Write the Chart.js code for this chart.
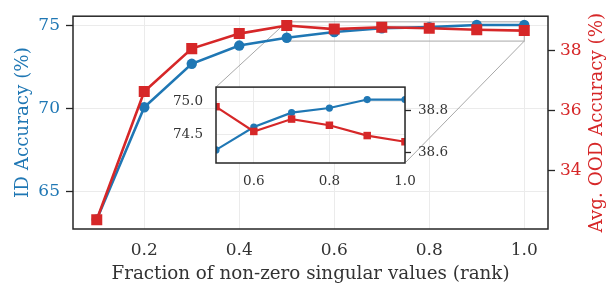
<!DOCTYPE html>
<html>
<head>
<meta charset="utf-8">
<script src="https://cdn.jsdelivr.net/npm/chart.js@4.4.1/dist/chart.umd.min.js"></script>
<style>
  html, body { margin: 0; padding: 0; background: #fff; }
  #wrap { position: relative; width: 614px; height: 296px; }
  #main { position: absolute; left: 0; top: 0; }
  #inset { position: absolute; left: 170px; top: 66px; }
</style>
</head>
<body>
<div id="wrap">
  <canvas id="main" width="614" height="296"></canvas>
  <canvas id="inset" width="280" height="130"></canvas>
</div>
<script>
const ranks = [0.1, 0.2, 0.3, 0.4, 0.5, 0.6, 0.7, 0.8, 0.9, 1.0];
const idAcc = [63.3, 70.07, 72.69, 73.79, 74.26, 74.61, 74.83, 74.9, 75.03, 75.03];
const oodAcc = [32.35, 36.62, 38.05, 38.55, 38.82, 38.7, 38.76, 38.73, 38.68, 38.65];

const xTicks = [0.2, 0.4, 0.6, 0.8, 1.0];
const idTicks = [65, 70, 75];
const oodTicks = [34, 36, 38];
const insetXTicks = [0.6, 0.8, 1.0];
const insetIdTicks = [74.5, 75.0];
const insetOodTicks = [38.6, 38.8];

const BLUE = "#1f77b4";
const RED = "#d62728";
const FONT = "DejaVu Serif";
const INSET_LEFT = 170, INSET_TOP = 66;

const toPoints = (ys) => ranks.map((x, i) => ({ x: x, y: ys[i] }));
const fixTicks = (vals) => (s) => { s.ticks = vals.map((v) => ({ value: v })); };

function makeDatasets(radius, square, width, clip) {
  return [
    {
      label: "ID Accuracy",
      data: toPoints(idAcc),
      yAxisID: "yId",
      borderColor: BLUE,
      backgroundColor: BLUE,
      borderWidth: width,
      pointRadius: radius,
      pointHoverRadius: radius,
      pointBorderWidth: 0,
      order: 1,
      clip: clip,
    },
    {
      label: "Avg. OOD Accuracy",
      data: toPoints(oodAcc),
      yAxisID: "yOod",
      borderColor: RED,
      backgroundColor: RED,
      borderWidth: width,
      pointStyle: "rect",
      pointRadius: square,
      pointHoverRadius: square,
      pointBorderWidth: 0,
      order: 0,
      clip: clip,
    },
  ];
}

// white plot background + dark frame
const frame = {
  id: "frame",
  beforeDraw(chart) {
    const a = chart.chartArea, ctx = chart.ctx;
    if (chart.options.plugins.frame.fill) {
      ctx.save();
      ctx.fillStyle = "#fff";
      ctx.fillRect(a.left, a.top, a.right - a.left, a.bottom - a.top);
      ctx.restore();
    }
  },
  afterDraw(chart) {
    const a = chart.chartArea, ctx = chart.ctx;
    ctx.save();
    ctx.strokeStyle = "#262626";
    ctx.lineWidth = 1.5;
    ctx.strokeRect(a.left, a.top, a.right - a.left, a.bottom - a.top);
    ctx.restore();
  },
};

// inset
const insetRange = { xMin: 0.5, xMax: 1.0, idMin: 74.06, idMax: 75.22, oodMin: 38.547, oodMax: 38.915 };
const smallFont = { family: FONT, size: 13.5 };

const inset = new Chart(document.getElementById("inset"), {
  type: "line",
  data: { datasets: makeDatasets(3.6, 5.3, 2.2, 0) },
  plugins: [frame],
  options: {
    responsive: false,
    animation: false,
    devicePixelRatio: 1,
    layout: { padding: { top: 8, left: 0, right: 0, bottom: 0 } },
    plugins: { legend: { display: false }, tooltip: { enabled: false }, frame: { fill: true } },
    scales: {
      x: {
        type: "linear",
        min: insetRange.xMin,
        max: insetRange.xMax,
        afterBuildTicks: fixTicks(insetXTicks),
        afterFit: (s) => { s.height = 33; },
        grid: { color: "#ebebeb", drawTicks: false },
        border: { display: false },
        ticks: { font: smallFont, color: "#333", padding: 10, callback: (v) => v.toFixed(1) },
      },
      yId: {
        type: "linear",
        position: "left",
        min: insetRange.idMin,
        max: insetRange.idMax,
        afterBuildTicks: fixTicks(insetIdTicks),
        afterFit: (s) => { s.width = 46; },
        grid: { color: "#ebebeb", drawTicks: false },
        border: { display: false },
        ticks: { font: smallFont, color: "#333", padding: 13, callback: (v) => v.toFixed(1) },
      },
      yOod: {
        type: "linear",
        position: "right",
        min: insetRange.oodMin,
        max: insetRange.oodMax,
        afterBuildTicks: fixTicks(insetOodTicks),
        afterFit: (s) => { s.width = 45; },
        grid: { drawOnChartArea: false, tickColor: "#262626", tickLength: 6, tickWidth: 1.3 },
        border: { display: false },
        ticks: { font: smallFont, color: "#333", padding: 7, callback: (v) => v.toFixed(1) },
      },
    },
  },
});

// zoom box on the main chart + connectors to the inset corners
const zoomMark = {
  id: "zoomMark",
  beforeDatasetsDraw(chart) {
    const x = chart.scales.x, y = chart.scales.yId, ctx = chart.ctx;
    const x0 = x.getPixelForValue(insetRange.xMin), x1 = x.getPixelForValue(insetRange.xMax);
    const y0 = y.getPixelForValue(insetRange.idMax), y1 = y.getPixelForValue(insetRange.idMin);
    const ia = inset.chartArea;
    ctx.save();
    ctx.strokeStyle = "#a8a8a8";
    ctx.lineWidth = 1;
    ctx.strokeRect(x0, y0, x1 - x0, y1 - y0);
    ctx.beginPath();
    ctx.moveTo(x0, y0);
    ctx.lineTo(INSET_LEFT + ia.left, INSET_TOP + ia.top);
    ctx.moveTo(x1, y1);
    ctx.lineTo(INSET_LEFT + ia.right, INSET_TOP + ia.bottom);
    ctx.stroke();
    ctx.restore();
  },
};

const titleSize = 18.3;

// right axis title reads bottom-to-top like the left one
const rightTitle = {
  id: "rightTitle",
  afterDraw(chart) {
    const a = chart.chartArea, ctx = chart.ctx;
    ctx.save();
    ctx.translate(597, (a.top + a.bottom) / 2);
    ctx.rotate(-Math.PI / 2);
    ctx.font = titleSize + "px '" + FONT + "'";
    ctx.fillStyle = RED;
    ctx.textAlign = "center";
    ctx.textBaseline = "middle";
    ctx.fillText("Avg. OOD Accuracy (%)", 0, 0);
    ctx.restore();
  },
};

const bigFont = { family: FONT, size: 17 };
const titleFont = { family: FONT, size: titleSize };

new Chart(document.getElementById("main"), {
  type: "line",
  data: { datasets: makeDatasets(5.2, 7.8, 2.6, undefined) },
  plugins: [frame, zoomMark, rightTitle],
  options: {
    responsive: false,
    animation: false,
    devicePixelRatio: 1,
    layout: { padding: { top: 7, left: 0, right: 0, bottom: 0 } },
    plugins: { legend: { display: false }, tooltip: { enabled: false }, frame: { fill: false } },
    scales: {
      x: {
        type: "linear",
        min: 0.05,
        max: 1.05,
        afterBuildTicks: fixTicks(xTicks),
        afterFit: (s) => { s.height = 67; },
        grid: { color: "#ebebeb", drawTicks: false },
        border: { display: false },
        ticks: { font: bigFont, color: "#333", padding: 11, callback: (v) => v.toFixed(1) },
        title: {
          display: true,
          text: "Fraction of non-zero singular values (rank)",
          font: titleFont,
          color: "#333",
          padding: { top: 0, bottom: 11 },
        },
      },
      yId: {
        type: "linear",
        position: "left",
        min: 62.73,
        max: 75.56,
        afterBuildTicks: fixTicks(idTicks),
        afterFit: (s) => { s.width = 73; },
        grid: { color: "#ebebeb", tickColor: "#262626", tickLength: 7, tickWidth: 1.3 },
        border: { display: false },
        ticks: { font: bigFont, color: BLUE, padding: 6 },
        title: {
          display: true,
          text: "ID Accuracy (%)",
          font: titleFont,
          color: BLUE,
          padding: { top: 12, bottom: 0 },
        },
      },
      yOod: {
        type: "linear",
        position: "right",
        min: 32.04,
        max: 39.13,
        afterBuildTicks: fixTicks(oodTicks),
        afterFit: (s) => { s.width = 66; },
        grid: { drawOnChartArea: false, tickColor: "#262626", tickLength: 7, tickWidth: 1.3 },
        border: { display: false },
        ticks: { font: bigFont, color: RED, padding: 5 },
      },
    },
  },
});
</script>
</body>
</html>
